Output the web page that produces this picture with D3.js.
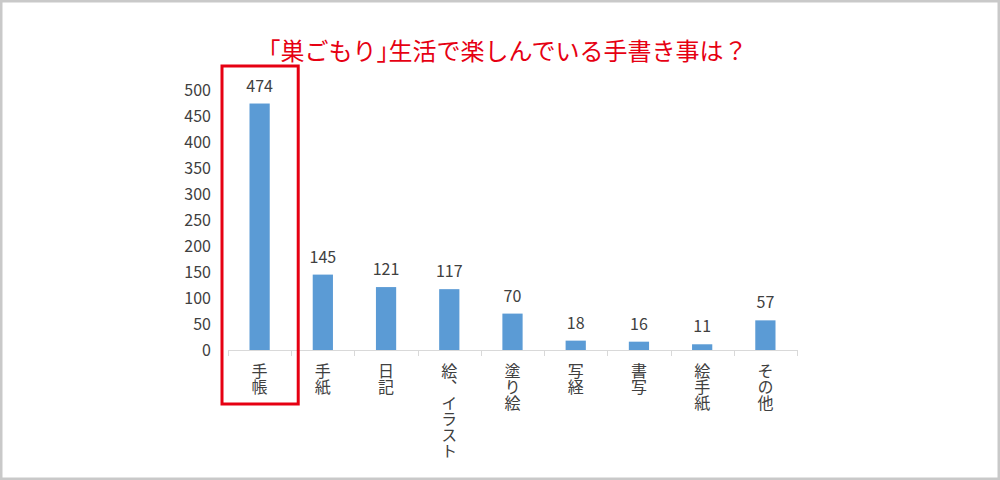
<!DOCTYPE html>
<html>
<head>
<meta charset="utf-8">
<script src="https://cdn.jsdelivr.net/npm/d3@7"></script>
<style>
  html, body { margin: 0; padding: 0; background: #fff; }
  svg { display: block; }
</style>
</head>
<body>
<script>
const titleParts = ["「巣ごもり", "」", "生活で楽しんでいる手書き事は？"];
const categories = ["手帳", "手紙", "日記", "絵、イラスト", "塗り絵", "写経", "書写", "絵手紙", "その他"];
const values = [474, 145, 121, 117, 70, 18, 16, 11, 57];
const yTicks = [0, 50, 100, 150, 200, 250, 300, 350, 400, 450, 500];
const highlighted = "手帳";

const W = 1000, H = 480;
const FONT = "'Noto Sans CJK JP', 'Noto Sans', sans-serif";
const svg = d3.select("body").append("svg").attr("width", W).attr("height", H);

// background + frame
svg.append("rect").attr("x", 1).attr("y", 1).attr("width", W - 2).attr("height", H - 2)
  .attr("fill", "#fff").attr("stroke", "#c9c9c9").attr("stroke-width", 3);

const x = d3.scaleBand().domain(categories).range([228, 797]).paddingInner(0.68).paddingOuter(0.34);
const y = d3.scaleLinear().domain([0, 500]).range([350, 90]);

// title (closing bracket set half-width like the original)
const t = svg.append("text").attr("x", 502).attr("y", 60).attr("text-anchor", "middle")
  .attr("font-family", FONT).attr("font-size", 24).attr("fill", "#e60012");
t.selectAll("tspan").data(titleParts).join("tspan")
  .style("font-feature-settings", (d, i) => i === 1 ? "'halt'" : "normal")
  .text(d => d);

// y tick labels
svg.append("g").selectAll("text").data(yTicks).join("text")
  .attr("x", 211).attr("y", d => y(d)).attr("dy", "0.36em")
  .attr("text-anchor", "end").attr("font-family", FONT).attr("font-size", 16)
  .attr("fill", "#404040").text(d => d);

// bars
svg.append("g").selectAll("rect").data(values).join("rect")
  .attr("x", (d, i) => x(categories[i])).attr("width", x.bandwidth())
  .attr("y", d => y(d)).attr("height", d => y(0) - y(d))
  .attr("fill", "#5b9bd5");

// value labels
svg.append("g").selectAll("text").data(values).join("text")
  .attr("x", (d, i) => x(categories[i]) + x.bandwidth() / 2).attr("y", d => y(d) - 12)
  .attr("text-anchor", "middle").attr("font-family", FONT).attr("font-size", 16)
  .attr("fill", "#404040").text(d => d);

// x axis line and ticks
const step = x.step();
const x0 = x.range()[0];
svg.append("line").attr("x1", x0).attr("x2", x.range()[1]).attr("y1", y(0) + 0.5).attr("y2", y(0) + 0.5)
  .attr("stroke", "#d9d9d9").attr("stroke-width", 1);
const bounds = d3.range(categories.length + 1).map(i => x0 + i * step);
svg.append("g").selectAll("line").data(bounds).join("line")
  .attr("x1", d => Math.round(d) + 0.5).attr("x2", d => Math.round(d) + 0.5)
  .attr("y1", y(0)).attr("y2", y(0) + 6)
  .attr("stroke", "#d9d9d9").attr("stroke-width", 1);

// vertical category labels
svg.append("g").selectAll("text").data(categories).join("text")
  .attr("x", d => x(d) + x.bandwidth() / 2).attr("y", y(0) + 13)
  .attr("font-family", FONT).attr("font-size", 16).attr("fill", "#404040")
  .style("writing-mode", "vertical-rl").style("text-orientation", "upright")
  .text(d => d);

// highlight box
const hx = x(highlighted) - (x.step() - x.bandwidth()) / 2;
svg.append("rect").attr("x", hx - 6).attr("y", 66).attr("width", step + 13).attr("height", 338)
  .attr("fill", "none").attr("stroke", "#e60012").attr("stroke-width", 3);
</script>
</body>
</html>
